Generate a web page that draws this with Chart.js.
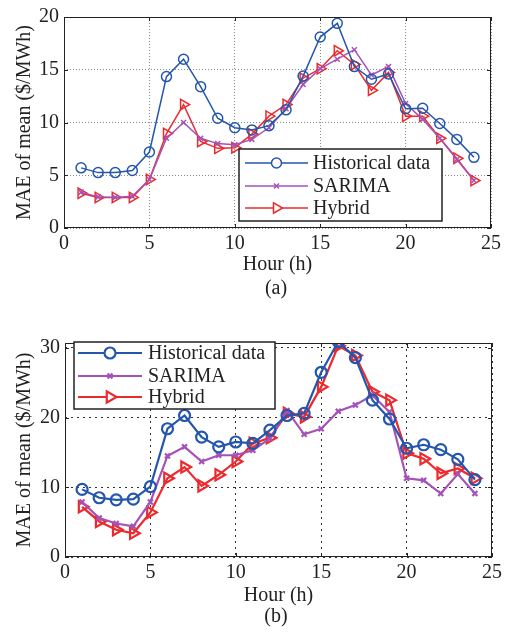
<!DOCTYPE html>
<html>
<head>
<meta charset="utf-8">
<script src="https://cdn.jsdelivr.net/npm/chart.js@4/dist/chart.umd.min.js"></script>
<style>
  html, body { margin: 0; padding: 0; background: #fff; }
  #wrap { position: relative; width: 507px; height: 632px; }
  canvas { position: absolute; left: 0; }
  #cA { top: 0; }
  #cB { top: 316px; }
</style>
</head>
<body>
<div id="wrap">
  <canvas id="cA" width="507" height="316"></canvas>
  <canvas id="cB" width="507" height="316"></canvas>
</div>
<script>
// Hours of the day
const hours = [1,2,3,4,5,6,7,8,9,10,11,12,13,14,15,16,17,18,19,20,21,22,23,24];

// Panel (a): MAE of mean ($/MWh)
const histA   = [5.7,5.25,5.25,5.45,7.2,14.35,16.0,13.4,10.4,9.5,9.3,9.7,11.2,14.4,18.1,19.4,15.3,14.1,14.6,11.3,11.35,9.9,8.4,6.7];
const sarimaA = [3.4,2.95,2.9,3.0,4.6,8.5,10.0,8.5,8.0,7.9,8.4,9.5,11.3,13.6,15.1,16.0,16.9,14.5,15.3,11.8,10.3,8.5,6.5,4.5];
const hybridA = [3.3,2.9,2.9,2.9,4.6,8.95,11.7,8.2,7.55,7.6,8.9,10.6,11.7,14.2,15.1,16.8,15.5,13.05,14.75,10.6,10.6,8.5,6.6,4.5];

// Panel (b): MAE of mean ($/MWh)
const histB   = [9.7,8.5,8.2,8.3,10.1,18.4,20.3,17.2,15.8,16.5,16.3,18.2,20.3,20.6,26.5,30.9,28.6,22.5,19.8,15.6,16.1,15.4,14.0,11.1];
const sarimaB = [7.9,5.6,4.8,4.4,7.9,14.5,15.8,13.7,14.6,14.6,15.3,17.0,21.0,17.6,18.4,20.9,21.8,23.2,20.8,11.3,11.0,9.1,11.9,9.1];
const hybridB = [7.2,5.1,3.9,3.4,6.4,11.3,12.9,10.2,11.8,13.7,16.3,17.1,20.6,20.1,24.4,30.3,28.9,23.7,22.5,14.9,14.1,12.0,12.7,11.3];

// Tick values
const xTicks  = [0,5,10,15,20,25];
const yTicksA = [0,5,10,15,20];
const yTicksB = [0,10,20,30];

const seriesNames = ['Historical data', 'SARIMA', 'Hybrid'];
const BLUE = '#2456ad', PURPLE = '#a552b8', RED = '#ec2a2e';
const SERIF = '"Liberation Serif", "Times New Roman", serif';

Chart.defaults.font.family = SERIF;
Chart.defaults.color = '#222';

function dataset(label, values, color, style, radius, lw) {
  return {
    label,
    data: hours.map((h, i) => ({ x: h, y: values[i] })),
    borderColor: color,
    backgroundColor: 'transparent',
    pointBorderColor: color,
    pointBackgroundColor: 'transparent',
    borderWidth: lw,
    pointBorderWidth: lw,
    pointStyle: style,
    pointRotation: style === 'triangle' ? 90 : 0,
    pointRadius: radius,
    tension: 0,
    fill: false
  };
}

// Frame around the plot area with inward tick marks
const framePlugin = {
  id: 'frame',
  afterDatasetsDraw(chart) {
    const { ctx, chartArea: a, scales: { x, y } } = chart;
    ctx.save();
    ctx.strokeStyle = '#222';
    ctx.lineWidth = 1;
    ctx.setLineDash([]);
    ctx.strokeRect(a.left + 0.5, a.top + 0.5, a.right - a.left - 1, a.bottom - a.top - 1);
    const t = 4;
    ctx.beginPath();
    x.ticks.forEach(tk => {
      const px = Math.round(x.getPixelForValue(tk.value)) + 0.5;
      ctx.moveTo(px, a.bottom); ctx.lineTo(px, a.bottom - t);
      ctx.moveTo(px, a.top); ctx.lineTo(px, a.top + t);
    });
    y.ticks.forEach(tk => {
      const py = Math.round(y.getPixelForValue(tk.value)) + 0.5;
      ctx.moveTo(a.left, py); ctx.lineTo(a.left + t, py);
      ctx.moveTo(a.right, py); ctx.lineTo(a.right - t, py);
    });
    ctx.stroke();
    ctx.restore();
  }
};

// Boxed legend drawn inside the plot area, plus the panel caption
const boxLegendPlugin = {
  id: 'boxLegend',
  afterDraw(chart, args, opts) {
    const { ctx } = chart;
    const b = opts.box;
    ctx.save();
    ctx.fillStyle = '#fff';
    ctx.fillRect(b.x, b.y, b.w, b.h);
    ctx.strokeStyle = '#222';
    ctx.lineWidth = 1.5;
    ctx.strokeRect(b.x, b.y, b.w, b.h);
    ctx.font = '20px ' + SERIF;
    ctx.textBaseline = 'middle';
    ctx.textAlign = 'left';
    chart.data.datasets.forEach((ds, i) => {
      const yy = opts.rows[i];
      ctx.strokeStyle = ds.borderColor;
      ctx.lineWidth = ds.borderWidth;
      ctx.beginPath();
      ctx.moveTo(opts.lineX0, yy);
      ctx.lineTo(opts.lineX1, yy);
      ctx.stroke();
      ctx.fillStyle = '#fff';
      Chart.helpers.drawPoint(ctx, {
        pointStyle: ds.pointStyle,
        rotation: ds.pointRotation,
        radius: ds.pointRadius,
        borderWidth: ds.pointBorderWidth
      }, (opts.lineX0 + opts.lineX1) / 2, yy);
      ctx.fillStyle = '#222';
      ctx.fillText(ds.label, opts.textX, yy + 1);
    });
    ctx.textAlign = 'center';
    ctx.fillText(opts.caption, opts.captionX, opts.captionY);
    ctx.restore();
  }
};

function makeChart(id, cfg) {
  return new Chart(document.getElementById(id), {
    type: 'line',
    data: {
      datasets: [
        dataset(seriesNames[0], cfg.hist,   BLUE,   'circle',   cfg.rCircle, cfg.lw),
        dataset(seriesNames[1], cfg.sarima, PURPLE, 'crossRot', cfg.rCross,  cfg.lw),
        dataset(seriesNames[2], cfg.hybrid, RED,    'triangle', cfg.rTri,    cfg.lw)
      ]
    },
    options: {
      responsive: false,
      animation: false,
      devicePixelRatio: 1,
      layout: { padding: { top: cfg.padTop, right: cfg.padRight, left: 0, bottom: 0 } },
      plugins: {
        legend: { display: false },
        tooltip: { enabled: false },
        boxLegend: cfg.legend
      },
      scales: {
        x: {
          type: 'linear',
          min: 0, max: 25,
          afterBuildTicks: s => { s.ticks = xTicks.map(v => ({ value: v })); },
          afterFit: s => { s.height = cfg.xHeight; },
          ticks: { font: { size: 20 }, padding: cfg.xTickPad, maxRotation: 0, autoSkip: false, color: '#222' },
          grid: { color: cfg.gridColor, lineWidth: 1, drawTicks: false },
          border: { display: false, dash: cfg.gridDash },
          title: { display: true, text: 'Hour (h)', font: { size: 20 }, color: '#222', padding: { top: 0, bottom: cfg.xTitlePad } }
        },
        y: {
          type: 'linear',
          min: 0, max: cfg.yMax,
          afterBuildTicks: s => { s.ticks = cfg.yTicks.map(v => ({ value: v })); },
          afterFit: s => { s.width = cfg.yWidth; },
          ticks: { font: { size: 20 }, padding: 5, color: '#222' },
          grid: { color: cfg.gridColor, lineWidth: 1, drawTicks: false },
          border: { display: false, dash: cfg.gridDash },
          title: { display: true, text: 'MAE of mean ($/MWh)', font: { size: 20 }, color: '#222', padding: { top: 13, bottom: 0 } }
        }
      }
    },
    plugins: [framePlugin, boxLegendPlugin]
  });
}

makeChart('cA', {
  hist: histA, sarima: sarimaA, hybrid: hybridA,
  yMax: 20, yTicks: yTicksA,
  lw: 1.5, rCircle: 5, rCross: 3.5, rTri: 6,
  padTop: 13, padRight: 16, yWidth: 64, xHeight: 88,
  xTickPad: 4, xTitlePad: 39,
  gridColor: '#8a8a8a', gridDash: [1, 2],
  legend: {
    box: { x: 239, y: 149, w: 203, h: 72 },
    rows: [163, 186, 208],
    lineX0: 245, lineX1: 308, textX: 313,
    caption: '(a)', captionX: 276, captionY: 289
  }
});

makeChart('cB', {
  hist: histB, sarima: sarimaB, hybrid: hybridB,
  yMax: 30.7, yTicks: yTicksB,
  lw: 2.2, rCircle: 5.5, rCross: 3.5, rTri: 6.5,
  padTop: 27, padRight: 15, yWidth: 65, xHeight: 75,
  xTickPad: 4, xTitlePad: 24,
  gridColor: '#333', gridDash: [2, 4],
  legend: {
    box: { x: 74, y: 26, w: 201, h: 67 },
    rows: [37, 60, 81],
    lineX0: 78, lineX1: 142, textX: 148,
    caption: '(b)', captionX: 276, captionY: 301
  }
});
</script>
</body>
</html>
